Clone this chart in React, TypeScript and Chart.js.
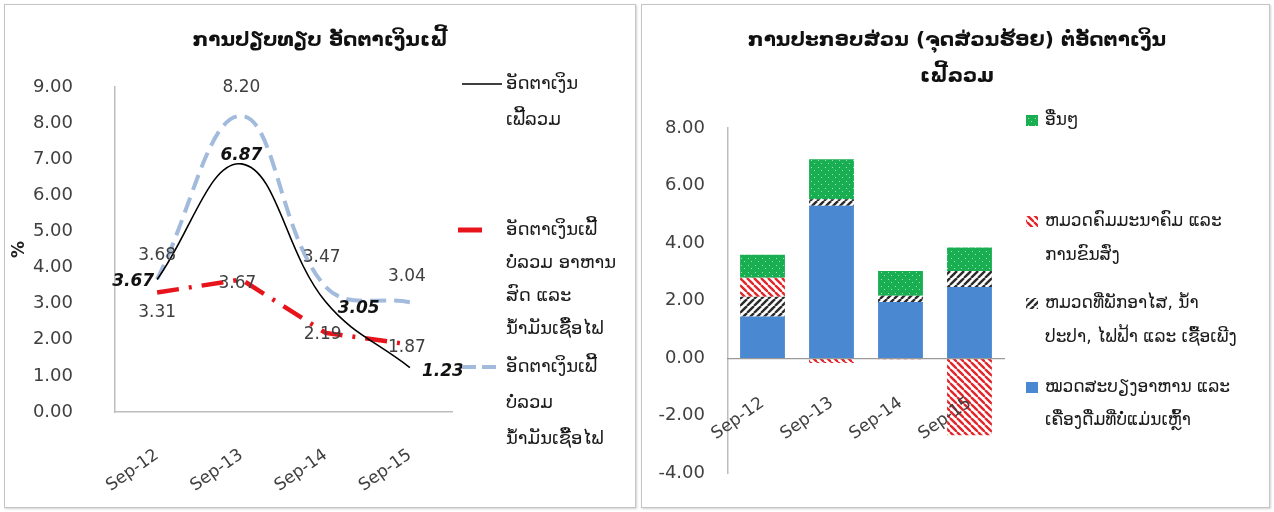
import React, { useEffect, useRef } from "react";
import { Chart, registerables } from "chart.js";
Chart.register(...registerables);

// ---------- data ----------
const periods = ["Sep-12", "Sep-13", "Sep-14", "Sep-15"];

// left chart: inflation comparison (%)
const headlineInflation = [3.67, 6.87, 3.05, 1.23];
const inflationExFreshFoodFuel = [3.31, 3.67, 2.19, 1.87];
const inflationExFuel = [3.68, 8.2, 3.47, 3.04];

// right chart: contribution (percentage points) to headline inflation
const foodContribution = [1.45, 5.3, 1.95, 2.47];
const housingContribution = [0.68, 0.22, 0.22, 0.56];
const transportContribution = [0.66, -0.17, -0.04, -2.68];
const otherContribution = [0.8, 1.39, 0.86, 0.82];

const leftTitle = ["ການປຽບທຽບ ອັດຕາເງິນເຟີ້"];
const rightTitle = ["ການປະກອບສ່ວນ (ຈຸດສ່ວນຮ້ອຍ) ຕໍ່ອັດຕາເງິນ", "ເຟີ້ລວມ"];

const nameHeadline = ["ອັດຕາເງິນ", "ເຟີ້ລວມ"];
const nameExFreshFoodFuel = ["ອັດຕາເງິນເຟີ້", "ບໍ່ລວມ ອາຫານ", "ສົດ ແລະ", "ນໍ້າມັນເຊື້ອໄຟ"];
const nameExFuel = ["ອັດຕາເງິນເຟີ້", "ບໍ່ລວມ", "ນໍ້າມັນເຊື້ອໄຟ"];

const nameOther = ["ອື່ນໆ"];
const nameTransport = ["ຫມວດຄົມມະນາຄົມ ແລະ", "ການຂົນສົ່ງ"];
const nameHousing = ["ຫມວດທີ່ພັກອາໄສ, ນໍ້າ", "ປະປາ, ໄຟຟ້າ ແລະ ເຊື້ອເພີງ"];
const nameFood = ["ໝວດສະບຽງອາຫານ ແລະ", "ເຄື່ອງດື່ມທີ່ບໍ່ແມ່ນເຫຼົ້າ"];

// ---------- styles ----------
const FONT = "'DejaVu Sans', 'Liberation Sans', sans-serif";
const TXT = "#404040";
const BLUE = "#4a89d2";
const GREEN = "#1aae52";
const RED = "#e3262c";
const DARK = "#2b2b2b";

function makePattern(kind: string): CanvasPattern | string {
  const c = document.createElement("canvas");
  const s = 7;
  c.width = s;
  c.height = s;
  const g = c.getContext("2d");
  if (!g) return "#999";
  if (kind === "dots") {
    g.fillStyle = GREEN;
    g.fillRect(0, 0, s, s);
    g.fillStyle = "rgba(190,240,200,0.8)";
    g.fillRect(1, 1, 1, 1);
    g.fillRect(4, 4, 1, 1);
  } else {
    g.fillStyle = "#ffffff";
    g.fillRect(0, 0, s, s);
    g.strokeStyle = kind === "red" ? RED : DARK;
    g.lineWidth = 2.4;
    for (const x of [-s, 0, s]) {
      g.beginPath();
      if (kind === "red") {
        g.moveTo(x, 0);
        g.lineTo(x + s, s);
      } else {
        g.moveTo(x, s);
        g.lineTo(x + s, 0);
      }
      g.stroke();
    }
  }
  const p = g.createPattern(c, "repeat");
  return p || "#999";
}

// value labels plugin
const valueLabels = {
  id: "valueLabels",
  afterDatasetsDraw(chart: any, _a: any, opts: any) {
    if (!opts || !opts.items) return;
    const ctx = chart.ctx;
    opts.items.forEach((item: any) => {
      const meta = chart.getDatasetMeta(item.dataset);
      const data = chart.data.datasets[item.dataset].data;
      meta.data.forEach((pt: any, i: number) => {
        const off = item.offsets[i];
        ctx.save();
        ctx.font = item.font;
        ctx.fillStyle = item.color;
        ctx.textAlign = "center";
        ctx.textBaseline = "middle";
        ctx.fillText(Number(data[i]).toFixed(2), pt.x + off[0], pt.y + off[1]);
        ctx.restore();
      });
    });
  },
};

// title + legend plugin
const decor = {
  id: "decor",
  afterDraw(chart: any, _a: any, opts: any) {
    if (!opts) return;
    const ctx = chart.ctx;
    ctx.save();
    ctx.textBaseline = "middle";
    // title
    ctx.font = opts.titleFont;
    ctx.fillStyle = "#111";
    ctx.textAlign = "center";
    opts.title.forEach((t: string, i: number) => {
      ctx.fillText(t, opts.titleX, opts.titleY + i * opts.titleLH);
    });
    // legend
    ctx.textAlign = "left";
    ctx.font = opts.legendFont;
    opts.legend.forEach((it: any) => {
      ctx.save();
      if (it.kind === "line") {
        ctx.strokeStyle = it.color;
        ctx.lineWidth = it.width;
        ctx.setLineDash(it.dash || []);
        ctx.beginPath();
        ctx.moveTo(it.sx, it.y);
        ctx.lineTo(it.sx + it.sw, it.y);
        ctx.stroke();
      } else {
        ctx.fillStyle = it.fill;
        ctx.fillRect(it.sx, it.y - 6, it.sw, 11);
      }
      ctx.restore();
      ctx.fillStyle = "#1a1a1a";
      it.lines.forEach((ln: string, i: number) => {
        ctx.fillText(ln, it.tx, it.y + i * it.lh);
      });
    });
    ctx.restore();
  },
};

function LeftChart() {
  const ref = useRef<HTMLCanvasElement>(null);
  useEffect(() => {
    const OX = 5;
    const OY = 5;
    const chart = new Chart(ref.current as HTMLCanvasElement, {
      type: "line",
      data: {
        labels: periods,
        datasets: [
          {
            label: nameHeadline.join(""),
            data: headlineInflation,
            borderColor: "#000",
            borderWidth: 1.6,
            tension: 0.4,
            pointRadius: 0,
            fill: false,
            order: 0,
          },
          {
            label: nameExFuel.join(""),
            data: inflationExFuel,
            borderColor: "#a2bbdc",
            borderWidth: 4,
            borderDash: [16, 8],
            tension: 0.4,
            pointRadius: 0,
            fill: false,
            order: 1,
          },
          {
            label: nameExFreshFoodFuel.join(""),
            data: inflationExFreshFoodFuel,
            borderColor: "#e8141c",
            borderWidth: 4.5,
            borderDash: [22, 10, 3, 10],
            tension: 0,
            pointRadius: 0,
            fill: false,
            order: 2,
          },
        ],
      },
      options: {
        responsive: false,
        animation: false,
        events: [],
        layout: { padding: { left: 0, right: 183, top: 82, bottom: 0 } },
        scales: {
          x: {
            offset: true,
            grid: { display: false, drawTicks: false },
            border: { display: true, color: "#bdbdbd", width: 1.5 },
            ticks: {
              minRotation: 35,
              maxRotation: 35,
              padding: 33,
              color: TXT,
              font: { family: FONT, size: 17 },
            },
            afterFit(s: any) {
              s.height = 95;
            },
          },
          y: {
            min: 0,
            max: 9,
            grid: { display: false, drawTicks: false },
            border: { display: true, color: "#bdbdbd", width: 1.5 },
            ticks: {
              stepSize: 1,
              padding: 42,
              color: TXT,
              font: { family: FONT, size: 18 },
              callback: (v: any) => Number(v).toFixed(2),
            },
            title: {
              display: true,
              text: "%",
              color: "#222",
              font: { family: FONT, size: 17, weight: "bold" },
            },
            afterFit(s: any) {
              s.width = 110;
            },
          },
        },
        plugins: {
          legend: { display: false },
          tooltip: { enabled: false },
          valueLabels: {
            items: [
              {
                dataset: 0,
                font: `italic bold 17px ${FONT}`,
                color: "#111",
                offsets: [[-24, 2], [0, -8], [33, 7], [33, 4]],
              },
              {
                dataset: 1,
                font: `17px ${FONT}`,
                color: TXT,
                offsets: [[0, -24], [0, -28], [-4, -29], [-3, -26]],
              },
              {
                dataset: 2,
                font: `17px ${FONT}`,
                color: TXT,
                offsets: [[0, 20], [-4, 4], [-3, 2], [-3, 3]],
              },
            ],
          },
          decor: {
            titleFont: `bold 20px ${FONT}`,
            titleX: 320 - OX,
            titleY: 41 - OY,
            titleLH: 36,
            title: leftTitle,
            legendFont: `18px ${FONT}`,
            legend: [
              { kind: "line", color: "#000", width: 1.6, sx: 462 - OX, sw: 40, tx: 506 - OX, y: 84 - OY, lh: 36, lines: nameHeadline },
              { kind: "line", color: "#e8141c", width: 5, sx: 458 - OX, sw: 24, tx: 506 - OX, y: 230 - OY, lh: 33, lines: nameExFreshFoodFuel },
              { kind: "line", color: "#a2bbdc", width: 4, dash: [14, 6], sx: 462 - OX, sw: 40, tx: 506 - OX, y: 367 - OY, lh: 36, lines: nameExFuel },
            ],
          },
        } as any,
      },
      plugins: [valueLabels, decor],
    } as any);
    return () => chart.destroy();
  }, []);
  return <canvas ref={ref} width={630} height={502} style={{ display: "block", width: 630, height: 502 }} />;
}

function RightChart() {
  const ref = useRef<HTMLCanvasElement>(null);
  useEffect(() => {
    const OX = 642;
    const OY = 5;
    const pDots = makePattern("dots");
    const pRed = makePattern("red");
    const pBlack = makePattern("black");
    const chart = new Chart(ref.current as HTMLCanvasElement, {
      type: "bar",
      data: {
        labels: periods,
        datasets: [
          { label: nameFood.join(" "), data: foodContribution, backgroundColor: BLUE, borderWidth: 0 },
          { label: nameHousing.join(" "), data: housingContribution, backgroundColor: pBlack, borderWidth: 0 },
          { label: nameTransport.join(" "), data: transportContribution, backgroundColor: pRed, borderWidth: 0 },
          { label: nameOther.join(" "), data: otherContribution, backgroundColor: pDots, borderWidth: 0 },
        ],
      },
      options: {
        responsive: false,
        animation: false,
        events: [],
        datasets: { bar: { barPercentage: 0.65, categoryPercentage: 1 } },
        layout: { padding: { left: 0, right: 265, top: 123, bottom: 21 } },
        scales: {
          x: {
            stacked: true,
            position: { y: 0 },
            grid: { display: false, drawTicks: false },
            border: { display: true, color: "#9a9a9a", width: 1.2, z: 1 },
            ticks: {
              z: 1,
              minRotation: 35,
              maxRotation: 35,
              padding: 35,
              color: TXT,
              font: { family: FONT, size: 17 },
            },
          },
          y: {
            stacked: true,
            min: -4,
            max: 8,
            grid: { display: false, drawTicks: false },
            border: { display: true, color: "#bdbdbd", width: 1.5 },
            ticks: {
              stepSize: 2,
              padding: 23,
              color: TXT,
              font: { family: FONT, size: 18 },
              callback: (v: any) => Number(v).toFixed(2),
            },
            afterFit(s: any) {
              s.width = 86;
            },
          },
        },
        plugins: {
          legend: { display: false },
          tooltip: { enabled: false },
          decor: {
            titleFont: `bold 20px ${FONT}`,
            titleX: 957 - OX,
            titleY: 41 - OY,
            titleLH: 36,
            title: rightTitle,
            legendFont: `17px ${FONT}`,
            legend: [
              { kind: "box", fill: pDots, sx: 1026 - OX, sw: 12, tx: 1045 - OX, y: 121 - OY, lh: 34, lines: nameOther },
              { kind: "box", fill: pRed, sx: 1026 - OX, sw: 12, tx: 1045 - OX, y: 222 - OY, lh: 34, lines: nameTransport },
              { kind: "box", fill: pBlack, sx: 1026 - OX, sw: 12, tx: 1045 - OX, y: 304 - OY, lh: 34, lines: nameHousing },
              { kind: "box", fill: BLUE, sx: 1026 - OX, sw: 12, tx: 1045 - OX, y: 388 - OY, lh: 33, lines: nameFood },
            ],
          },
        } as any,
      },
      plugins: [decor],
    } as any);
    return () => chart.destroy();
  }, []);
  return <canvas ref={ref} width={627} height={502} style={{ display: "block", width: 627, height: 502 }} />;
}

export default function App() {
  useEffect(() => {
    document.body.style.margin = "0";
    document.body.style.background = "#ffffff";
  }, []);
  const box: React.CSSProperties = {
    position: "absolute",
    top: 4,
    border: "1px solid #c4c4c4",
    boxShadow: "1px 1px 2px rgba(0,0,0,0.18)",
    background: "#fff",
  };
  return (
    <div style={{ position: "relative", width: 1274, height: 512, background: "#fff", overflow: "hidden" }}>
      <div style={{ ...box, left: 4, width: 630, height: 502 }}>
        <LeftChart />
      </div>
      <div style={{ ...box, left: 641, width: 627, height: 502 }}>
        <RightChart />
      </div>
    </div>
  );
}
